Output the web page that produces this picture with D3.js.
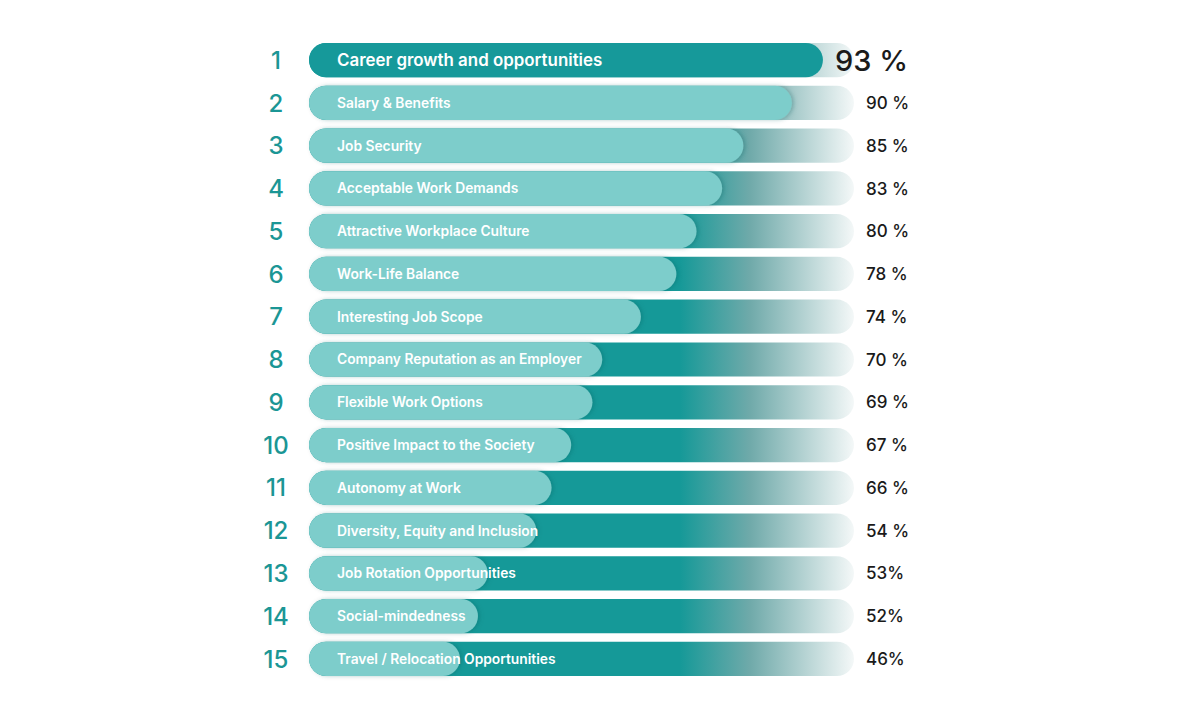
<!DOCTYPE html>
<html>
<head>
<meta charset="utf-8">
<script src="https://cdn.jsdelivr.net/npm/d3@7"></script>
<style>
  html, body { margin: 0; padding: 0; background: #fff; }
  svg { display: block; }
</style>
</head>
<body>
<div id="chart"></div>
<script>
// Ranked reasons, top to bottom
const ranks = d3.range(1, 16);
const reasons = [
  'Career growth and opportunities',
  'Salary & Benefits',
  'Job Security',
  'Acceptable Work Demands',
  'Attractive Workplace Culture',
  'Work-Life Balance',
  'Interesting Job Scope',
  'Company Reputation as an Employer',
  'Flexible Work Options',
  'Positive Impact to the Society',
  'Autonomy at Work',
  'Diversity, Equity and Inclusion',
  'Job Rotation Opportunities',
  'Social-mindedness',
  'Travel / Relocation Opportunities'
];
// printed percentages
const pctLabels = ['93 %', '90 %', '85 %', '83 %', '80 %', '78 %', '74 %', '70 %',
                   '69 %', '67 %', '66 %', '54 %', '53%', '52%', '46%'];
// share of the track each bar fills, as drawn in the picture (%)
const barShare = [94.3, 88.6, 79.7, 75.8, 71.1, 67.4, 60.9, 53.8,
                  52.0, 48.1, 44.5, 41.7, 32.8, 31.0, 27.7];

const W = 1200, H = 717;
const FONT = 'Inter, Lato, sans-serif';
const svg = d3.select('#chart').append('svg')
  .attr('width', W).attr('height', H)
  .attr('viewBox', `0 0 ${W} ${H}`);

const x = d3.scaleLinear().domain([0, 100]).range([309, 854]);
const y = d3.scaleBand().domain(ranks).range([43, 676]).paddingInner(0.2).paddingOuter(0);
const bh = y.bandwidth();

const defs = svg.append('defs');

// track fades from solid teal into near white
const grad = defs.append('linearGradient')
  .attr('id', 'track')
  .attr('gradientUnits', 'userSpaceOnUse')
  .attr('x1', x(0)).attr('x2', x(100)).attr('y1', 0).attr('y2', 0);
grad.append('stop').attr('offset', '0%').attr('stop-color', '#159998');
grad.append('stop').attr('offset', '68%').attr('stop-color', '#159998');
grad.append('stop').attr('offset', '81%').attr('stop-color', '#70aaaa');
grad.append('stop').attr('offset', '100%').attr('stop-color', '#f4f8f8');

const shadow = defs.append('filter').attr('id', 'shadow')
  .attr('x', '-5%').attr('y', '-30%').attr('width', '115%').attr('height', '160%');
shadow.append('feDropShadow')
  .attr('dx', 2).attr('dy', 0).attr('stdDeviation', 2)
  .attr('flood-color', '#0b5c5b').attr('flood-opacity', 0.3);

const rows = svg.append('g').selectAll('g.row')
  .data(ranks)
  .join('g')
  .attr('class', 'row')
  .attr('transform', d => `translate(0,${y(d)})`);

// background track
rows.append('rect')
  .attr('x', x(0)).attr('y', 0)
  .attr('width', x(100) - x(0)).attr('height', bh)
  .attr('rx', bh / 2)
  .attr('fill', 'url(#track)');

// value bar
rows.append('rect')
  .attr('x', x(0)).attr('y', 0)
  .attr('width', (d, i) => x(barShare[i]) - x(0)).attr('height', bh)
  .attr('rx', bh / 2)
  .attr('fill', (d, i) => i === 0 ? '#16999a' : '#7dcdcb')
  .attr('filter', (d, i) => i === 0 ? null : 'url(#shadow)');

// reason label
rows.append('text')
  .attr('x', 337).attr('y', bh / 2)
  .attr('dy', '0.36em')
  .attr('font-family', FONT)
  .attr('font-weight', 600)
  .attr('font-size', (d, i) => i === 0 ? '16.9px' : '13.8px')
  .attr('fill', '#fff')
  .text((d, i) => reasons[i]);

// rank number
rows.append('text')
  .attr('x', 276).attr('y', bh / 2)
  .attr('dy', '0.36em')
  .attr('text-anchor', 'middle')
  .attr('font-family', FONT)
  .attr('font-weight', 500)
  .attr('font-size', '24px')
  .attr('fill', '#1b9695')
  .text(d => d);

// percentage
rows.append('text')
  .attr('x', (d, i) => i === 0 ? 908 : 866).attr('y', bh / 2)
  .attr('dy', '0.36em')
  .attr('text-anchor', (d, i) => i === 0 ? 'end' : 'start')
  .attr('font-family', FONT)
  .attr('font-weight', 500)
  .attr('font-size', (d, i) => i === 0 ? '29px' : '17px')
  .attr('fill', '#1a1a1a')
  .text((d, i) => pctLabels[i]);
</script>
</body>
</html>
